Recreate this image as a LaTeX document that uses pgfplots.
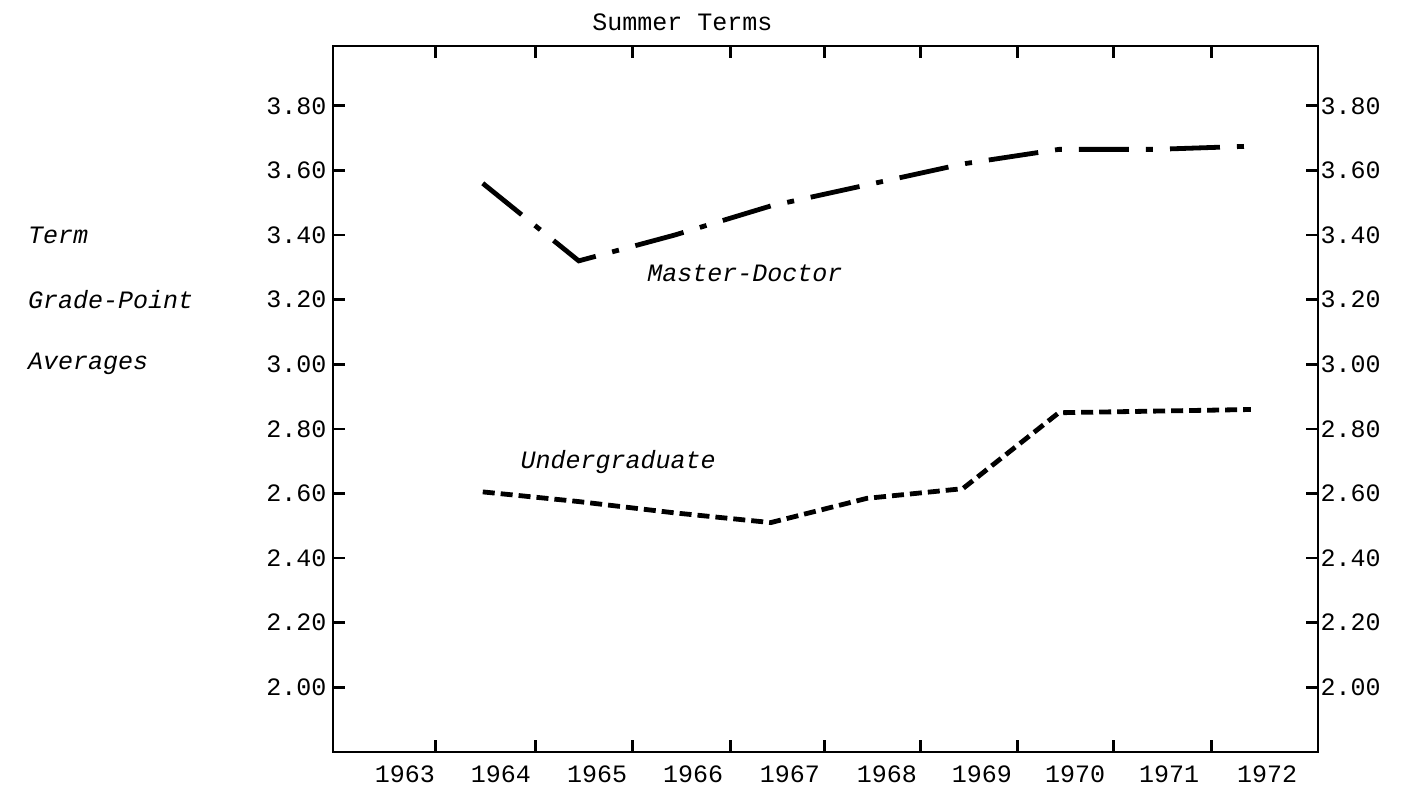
\documentclass[border=0pt]{standalone}
\usepackage{fontspec}
\setmainfont{Liberation Mono}
\usepackage{pgfplots}
\pgfplotsset{compat=1.18}
\begin{document}
\fontsize{12.5pt}{15pt}\selectfont
\begin{tikzpicture}
\path[use as bounding box] (-166.5pt,-21pt) rectangle (538.5pt,376pt);
\begin{axis}[
  at={(0,0)}, anchor=south west,
  scale only axis, width=492.5pt, height=353pt,
  xmin=1962.44, xmax=1972.70, ymin=1.80, ymax=3.985,
  axis line style={line width=1.4pt},
  every tick/.style={black, line width=1.3pt},
  tick align=inside, major tick length=6pt,
  xtick={1963.51,1964.55,1965.56,1966.58,1967.56,1968.56,1969.57,1970.57,1971.59},
  xticklabels={},
  xtick pos=both,
  extra x ticks={1963.19,1964.19,1965.19,1966.19,1967.20,1968.21,1969.20,1970.17,1971.15,1972.17},
  extra x tick labels={1963,1964,1965,1966,1967,1968,1969,1970,1971,1972},
  extra x tick style={major tick length=0pt, xticklabel style={yshift=-2.5pt}},
  ytick={2.0,2.2,2.4,2.6,2.8,3.0,3.2,3.4,3.6,3.8},
  yticklabels={2.00,2.20,2.40,2.60,2.80,3.00,3.20,3.40,3.60,3.80},
  ytick pos=both, yticklabel pos=left,
  yticklabel style={xshift=1pt},
  /pgf/number format/assume math mode=true,
  tick label style={font=\fontsize{12.5pt}{15pt}\selectfont},
  clip=false,
]
\addplot[black, line width=2.4pt, dash pattern=on 25pt off 8.5pt on 3.5pt off 8.5pt]
  coordinates {(1964,3.56)(1965,3.32)(1966,3.40)(1967,3.49)(1968,3.555)(1969,3.62)(1970,3.665)(1971,3.665)(1972,3.675)};
\addplot[black, line width=2.4pt, dash pattern=on 6pt off 3pt]
  coordinates {(1964,2.605)(1965,2.575)(1966,2.54)(1967,2.51)(1968,2.585)(1969,2.615)(1970,2.85)(1971,2.855)(1972,2.86)};
\node[font=\itshape] at (axis cs:1966.73,3.28) {Master-Doctor};
\node[font=\itshape] at (axis cs:1965.41,2.696) {Undergraduate};
\node[anchor=west, inner sep=0pt, font=\itshape] at (axis cs:1959.26,3.40) {Term};
\node[anchor=west, inner sep=0pt, font=\itshape] at (axis cs:1959.26,3.20) {Grade-Point};
\node[anchor=west, inner sep=0pt, font=\itshape] at (axis cs:1959.26,3.00) {Averages};
\node at (axis cs:1966.08,4.057) {Summer Terms};
\end{axis}
\begin{axis}[
  at={(0,0)}, anchor=south west,
  scale only axis, width=492.5pt, height=353pt,
  xmin=1962.44, xmax=1972.70, ymin=1.80, ymax=3.985,
  axis line style={draw=none},
  major tick length=0pt,
  xtick=\empty,
  ytick={2.0,2.2,2.4,2.6,2.8,3.0,3.2,3.4,3.6,3.8},
  yticklabels={2.00,2.20,2.40,2.60,2.80,3.00,3.20,3.40,3.60,3.80},
  ytick pos=right, yticklabel pos=right,
  yticklabel style={xshift=-3pt},
  /pgf/number format/assume math mode=true,
  tick label style={font=\fontsize{12.5pt}{15pt}\selectfont},
]
\end{axis}
\end{tikzpicture}
\end{document}
